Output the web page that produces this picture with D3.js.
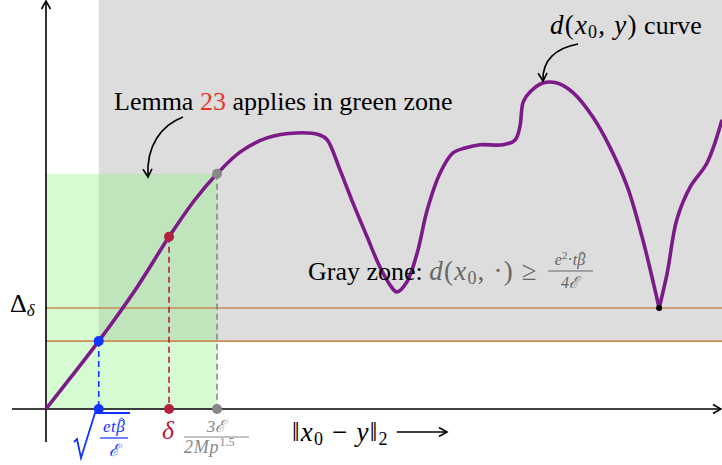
<!DOCTYPE html>
<html>
<head>
<meta charset="utf-8">
<script src="https://cdn.jsdelivr.net/npm/d3@7"></script>
<style>
  body { margin: 0; background: #fff; }
  svg { display: block; }
  text { font-family: "Liberation Serif", "Times New Roman", serif; }
</style>
</head>
<body>
<svg id="chart" width="722" height="465"></svg>
<script>
// the d(x0, y) curve, in abstract units (x: 0..100, y: 0..100)
const curveX = [0, 3.6, 7.8, 13.2, 18.2, 22.0, 25.3, 28.7, 32.7, 37.1, 40.5, 41.6, 43.5, 45.4, 47.5, 49.4, 50.9, 51.9, 53.4, 54.9, 56.4, 58.3, 60.2, 62.0, 64.2, 67.6, 69.4, 70.1, 70.6, 71.6, 73.5, 75.6, 78.0, 80.9, 83.4, 86.0, 88.3, 90.7, 91.9, 93.3, 95.3, 97.8, 100];
const curveY = [0, 7.6, 16.6, 29.1, 42.1, 51.1, 57.5, 62.8, 66.3, 67.5, 67.0, 65.8, 58.4, 50.4, 42.1, 34.7, 30.3, 28.6, 31.1, 38.1, 48.7, 57.7, 62.6, 63.8, 64.6, 64.6, 65.8, 69.0, 75.1, 77.5, 79.7, 79.7, 77.3, 71.4, 64.1, 54.3, 41.3, 24.7, 33.3, 46.2, 54.3, 60.2, 70.7];
const cuspX = 90.7;   // sharp minimum touching the Delta_delta level

// points marked on the curve and dropped to the axis
const markX = [7.8, 18.2, 25.3];
const markY = [16.6, 42.1, 57.5];

// horizontal levels (lower one = sqrt(et beta/E) level, upper one = Delta_delta)
const levelY = [16.6, 24.7];

// zones
const grayZoneX = [7.8, 100];
const grayZoneY = [16.6, 100];
const greenZoneX = [0, 25.3];
const greenZoneY = [0, 57.5];

const svg = d3.select("#chart");
const x = d3.scaleLinear().domain([0, 100]).range([46, 722]);
const y = d3.scaleLinear().domain([0, 100]).range([409, 0]);

const defs = svg.append("defs");
defs.append("marker")
    .attr("id", "arr")
    .attr("viewBox", "0 0 12 12")
    .attr("refX", 10).attr("refY", 6)
    .attr("markerWidth", 12).attr("markerHeight", 12)
    .attr("markerUnits", "userSpaceOnUse")
    .attr("orient", "auto")
    .append("path")
    .attr("d", "M2,1.5 L10,6 L2,10.5")
    .attr("fill", "none").attr("stroke", "#000").attr("stroke-width", 1.6);

// gray zone
svg.append("rect")
    .attr("x", x(grayZoneX[0])).attr("y", y(grayZoneY[1]))
    .attr("width", x(grayZoneX[1]) - x(grayZoneX[0]))
    .attr("height", y(grayZoneY[0]) - y(grayZoneY[1]))
    .attr("fill", "#dddddd");

// green zone
svg.append("rect")
    .attr("x", x(greenZoneX[0])).attr("y", y(greenZoneY[1]))
    .attr("width", x(greenZoneX[1]) - x(greenZoneX[0]))
    .attr("height", y(greenZoneY[0]) - y(greenZoneY[1]))
    .attr("fill", "#8ef07f").attr("fill-opacity", 0.36);

// levels
svg.selectAll(".level")
    .data(levelY)
    .enter()
    .append("line")
    .attr("class", "level")
    .attr("x1", x(0)).attr("x2", x(100))
    .attr("y1", d => y(d)).attr("y2", d => y(d))
    .attr("stroke", "#c98d55").attr("stroke-width", 1.6);

// axes
svg.append("line")
    .attr("x1", 12).attr("x2", 721)
    .attr("y1", y(0)).attr("y2", y(0))
    .attr("stroke", "#000").attr("stroke-width", 1.6)
    .attr("marker-end", "url(#arr)");
svg.append("line")
    .attr("x1", x(0)).attr("x2", x(0))
    .attr("y1", 442).attr("y2", 1)
    .attr("stroke", "#000").attr("stroke-width", 1.6)
    .attr("marker-end", "url(#arr)");

// dashed drops
const markColors = ["#1133ff", "#b3203f", "#888888"];
svg.selectAll(".drop")
    .data(markX)
    .enter()
    .append("line")
    .attr("class", "drop")
    .attr("x1", d => x(d)).attr("x2", d => x(d))
    .attr("y1", (d, i) => y(markY[i])).attr("y2", y(0))
    .attr("stroke", (d, i) => markColors[i])
    .attr("stroke-width", 1.6)
    .attr("stroke-dasharray", "6,4");

// curve, split at the cusp so the V stays sharp
const pts = curveX.map((d, i) => [d, curveY[i]]);
const ci = curveX.indexOf(cuspX);
const line = d3.line()
    .x(d => x(d[0])).y(d => y(d[1]))
    .curve(d3.curveCatmullRom.alpha(0.5));
[pts.slice(0, ci + 1), pts.slice(ci)].forEach(seg => {
    svg.append("path")
        .datum(seg)
        .attr("d", line)
        .attr("fill", "none")
        .attr("stroke", "#7b1a88")
        .attr("stroke-width", 3.6)
        .attr("stroke-linejoin", "round");
});

// markers on curve and on axis
markX.forEach((d, i) => {
    [markY[i], 0].forEach(v => {
        svg.append("circle")
            .attr("cx", x(d)).attr("cy", y(v)).attr("r", 5)
            .attr("fill", markColors[i]);
    });
});
svg.append("circle")
    .attr("cx", x(cuspX)).attr("cy", y(levelY[1])).attr("r", 3)
    .attr("fill", "#000");

// ---------- labels ----------
const gray = "#666666";
const mathSpacing = 1.2;

// puts a small hat over the character at index idx of a text element
function addHat(textSel, idx, color, w) {
    const b = textSel.node().getExtentOfChar(idx);
    const cx = b.x + b.width / 2 + 1;
    const top = b.y + b.height * 0.18;
    svg.append("path")
        .attr("d", `M${cx - w},${top} L${cx},${top - w * 0.8} L${cx + w},${top}`)
        .attr("fill", "none").attr("stroke", color).attr("stroke-width", 1);
}

// Delta_delta
const dl = svg.append("text").attr("x", 10).attr("y", 312).attr("font-size", 26);
dl.append("tspan").text("Δ");
dl.append("tspan").attr("font-style", "italic").attr("font-size", 17).attr("dy", 4).text("δ");

// sqrt(et beta / E)
const blue = "#1133ff";
svg.append("path")
    .attr("d", "M74,442 L77,439 L81,458 L95,413 L130,413")
    .attr("fill", "none").attr("stroke", blue).attr("stroke-width", 1.8);
const sq = svg.append("text").attr("x", 114).attr("y", 432).attr("text-anchor", "middle")
    .attr("font-size", 17).attr("font-style", "italic").attr("fill", blue)
    .attr("letter-spacing", 0.5).text("etβ");
addHat(sq, 2, blue, 3);
svg.append("line").attr("x1", 100).attr("x2", 128).attr("y1", 438).attr("y2", 438)
    .attr("stroke", blue).attr("stroke-width", 1.2);
svg.append("text").attr("x", 114).attr("y", 456).attr("text-anchor", "middle")
    .attr("font-size", 17).attr("font-style", "italic").attr("fill", blue).text("ℰ");

// delta
svg.append("text").attr("x", 162).attr("y", 439).attr("font-size", 26)
    .attr("font-style", "italic").attr("fill", "#b3203f").text("δ");

// 3E / 2Mp^1.5
svg.append("text").attr("x", 216).attr("y", 432).attr("text-anchor", "middle")
    .attr("font-size", 17).attr("font-style", "italic").attr("fill", "#888").text("3ℰ");
svg.append("line").attr("x1", 184).attr("x2", 249).attr("y1", 437).attr("y2", 437)
    .attr("stroke", "#888").attr("stroke-width", 1.2);
const den = svg.append("text").attr("x", 184).attr("y", 453)
    .attr("font-size", 18).attr("font-style", "italic").attr("fill", "#888");
den.append("tspan").attr("letter-spacing", 0.8).text("2Mp");
den.append("tspan").attr("font-size", 12).attr("dy", -7).attr("font-style", "normal").text("1.5");

// ||x0 - y||2 -->
const xl = svg.append("text").attr("x", 292).attr("y", 441).attr("font-size", 27)
    .attr("letter-spacing", mathSpacing);
xl.append("tspan").text("‖");
xl.append("tspan").attr("font-style", "italic").text("x");
xl.append("tspan").attr("font-size", 18).attr("dy", 4).text("0");
xl.append("tspan").attr("dy", -4).text(" − ");
xl.append("tspan").attr("font-style", "italic").text("y");
xl.append("tspan").text("‖");
xl.append("tspan").attr("font-size", 18).attr("dy", 4).text("2");
const xlEnd = 292 + xl.node().getComputedTextLength();
svg.append("line")
    .attr("x1", xlEnd + 8).attr("x2", 447)
    .attr("y1", 432).attr("y2", 432)
    .attr("stroke", "#000").attr("stroke-width", 1.5)
    .attr("marker-end", "url(#arr)");

// Lemma 23 ...
const lm = svg.append("text").attr("x", 114).attr("y", 110).attr("font-size", 26);
lm.append("tspan").text("Lemma ");
lm.append("tspan").attr("fill", "#e8352a").text("23");
lm.append("tspan").text(" applies in green zone");
svg.append("path")
    .attr("d", "M183,117 C162,125 146,145 148,177")
    .attr("fill", "none").attr("stroke", "#000").attr("stroke-width", 1.6)
    .attr("marker-end", "url(#arr)");

// Gray zone: d(x0, .) >= e^2 t beta / 4E
const gz = svg.append("text").attr("x", 308).attr("y", 280).attr("font-size", 26);
gz.append("tspan").text("Gray zone: ");
const gzm = gz.append("tspan").attr("fill", gray).attr("font-size", 27).attr("letter-spacing", mathSpacing);
gzm.append("tspan").attr("font-style", "italic").text("d");
gzm.append("tspan").text("(");
gzm.append("tspan").attr("font-style", "italic").text("x");
gzm.append("tspan").attr("font-size", 18).attr("dy", 4).text("0");
gzm.append("tspan").attr("dy", -4).text(", ·) ≥");
const fnum = svg.append("text").attr("x", 570).attr("y", 265).attr("text-anchor", "middle")
    .attr("font-size", 16).attr("font-style", "italic").attr("fill", gray);
fnum.append("tspan").text("e");
fnum.append("tspan").attr("font-size", 11).attr("dy", -6).attr("font-style", "normal").text("2");
fnum.append("tspan").attr("dy", 6).attr("font-style", "normal").text("·");
fnum.append("tspan").text("tβ");
addHat(fnum, 4, gray, 3);
svg.append("line").attr("x1", 548).attr("x2", 593).attr("y1", 271).attr("y2", 271)
    .attr("stroke", gray).attr("stroke-width", 1.1);
svg.append("text").attr("x", 570).attr("y", 288).attr("text-anchor", "middle")
    .attr("font-size", 16).attr("font-style", "italic").attr("fill", gray).text("4ℰ");

// d(x0, y) curve
const dc = svg.append("text").attr("x", 550).attr("y", 34).attr("font-size", 27)
    .attr("letter-spacing", mathSpacing);
dc.append("tspan").attr("font-style", "italic").text("d");
dc.append("tspan").text("(");
dc.append("tspan").attr("font-style", "italic").text("x");
dc.append("tspan").attr("font-size", 18).attr("dy", 4).text("0");
dc.append("tspan").attr("dy", -4).text(", ");
dc.append("tspan").attr("font-style", "italic").text("y");
dc.append("tspan").text(")");
dc.append("tspan").attr("font-size", 26).attr("letter-spacing", 0).text(" curve");
svg.append("path")
    .attr("d", "M578,44 C556,48 542,60 543,81")
    .attr("fill", "none").attr("stroke", "#000").attr("stroke-width", 1.6)
    .attr("marker-end", "url(#arr)");
</script>
</body>
</html>
